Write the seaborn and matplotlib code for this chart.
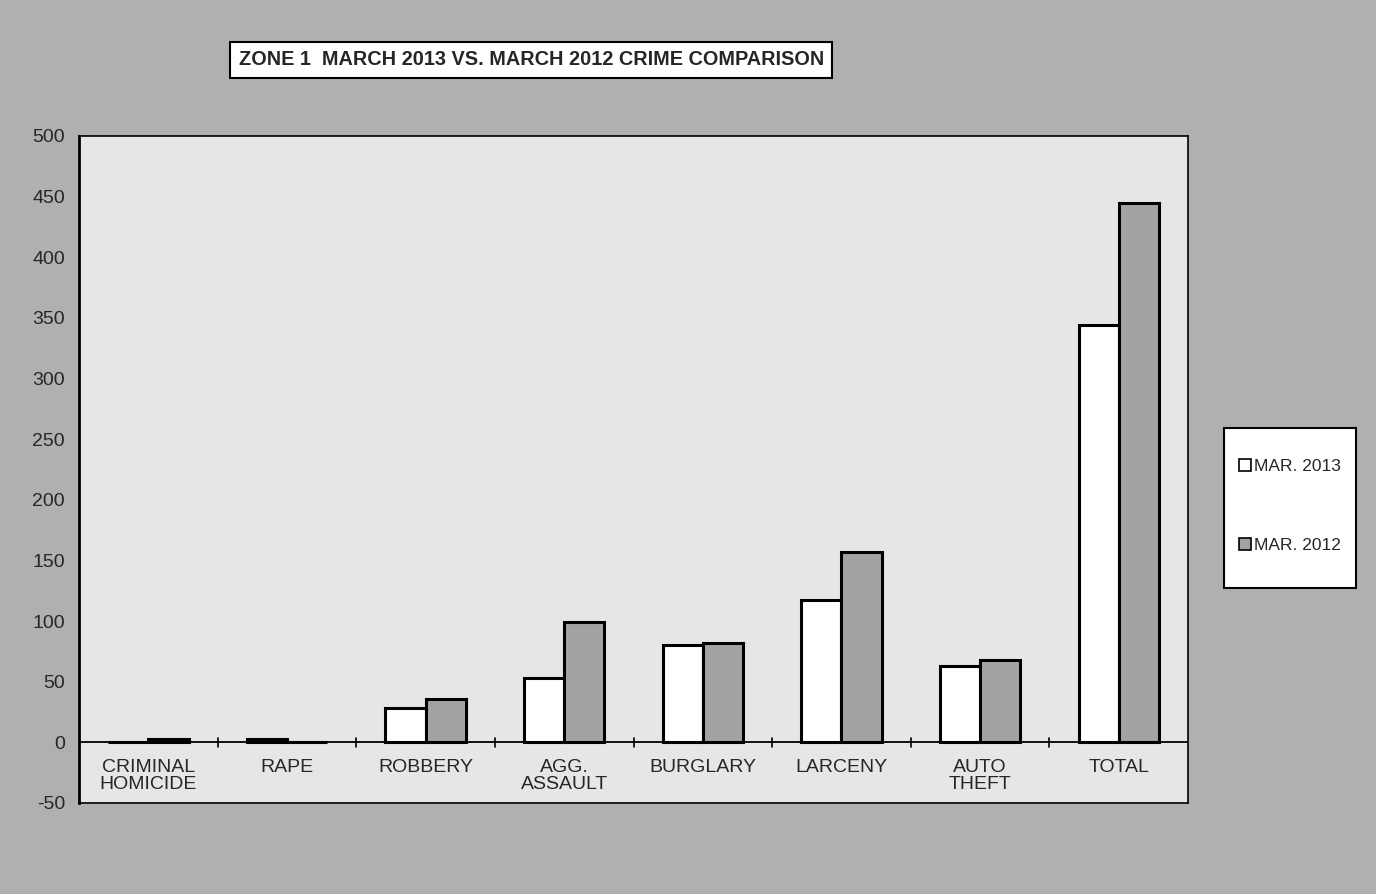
import numpy as np
import pandas as pd
import seaborn as sns
import matplotlib.pyplot as plt
from matplotlib.patches import Patch, Rectangle

crimes = ["CRIMINAL\nHOMICIDE", "RAPE", "ROBBERY", "AGG.\nASSAULT",
          "BURGLARY", "LARCENY", "AUTO\nTHEFT", "TOTAL"]
mar_2013 = [0, 3, 28, 53, 80, 117, 63, 344]
mar_2012 = [3, 0, 36, 99, 82, 157, 68, 445]
series = ["MAR. 2013", "MAR. 2012"]

df = pd.DataFrame({
    "crime": crimes * 2,
    "count": mar_2013 + mar_2012,
    "period": [series[0]] * len(crimes) + [series[1]] * len(crimes),
})

sns.set_style("white")
plt.rcParams['font.family'] = ['Liberation Sans', 'DejaVu Sans']
plt.rcParams['axes.unicode_minus'] = False

fig = plt.figure(figsize=(13.76, 8.94), dpi=100)
fig.patch.set_facecolor("#b0b0b0")
ax = fig.add_axes([0.0574, 0.1018, 0.806, 0.7461])
ax.set_facecolor("#e6e6e6")

sns.barplot(data=df, x="crime", y="count", hue="period", order=crimes,
            hue_order=series, palette=["white", "#a3a3a3"], width=0.58,
            edgecolor="black", linewidth=2.2, ax=ax, legend=False)

ax.set_ylim(-50, 500)
ax.set_xlim(-0.5, len(crimes) - 0.5)
ax.set_yticks(np.arange(-50, 501, 50))
ax.tick_params(axis="y", labelsize=14, direction="out", length=7, width=1.2, pad=3)
ax.set_xticks([])
ax.set_xlabel("")
ax.set_ylabel("")
for s in ax.spines.values():
    s.set_visible(True)
    s.set_color("black")
    s.set_linewidth(1.2)
ax.spines["left"].set_linewidth(2)

# zero line with separators between categories
ax.axhline(0, color="black", lw=1.3, zorder=1)
for b in np.arange(0.5, len(crimes) - 1, 1):
    ax.plot([b, b], [-4, 4], color="black", lw=1.2, zorder=1)
for i, c in enumerate(crimes):
    ax.text(i, -14, c, ha="center", va="top", fontsize=14, linespacing=0.95)

fig.text(0.386, 0.933, "ZONE 1  MARCH 2013 VS. MARCH 2012 CRIME COMPARISON",
         ha="center", va="center", fontsize=14.3, fontweight="bold",
         bbox=dict(facecolor="white", edgecolor="black", linewidth=1.5, pad=6))

# legend box
fig.patches.append(Rectangle((0.8895, 0.3423), 0.0959, 0.179, transform=fig.transFigure,
                             facecolor="white", edgecolor="black", linewidth=1.5, zorder=2))
handles = [Patch(facecolor="white", edgecolor="black", linewidth=1.2),
           Patch(facecolor="#a3a3a3", edgecolor="black", linewidth=1.2)]
leg = fig.legend(handles, series, loc="center", bbox_to_anchor=(0.9375, 0.434),
                 fontsize=12.5, frameon=False, handlelength=0.7,
                 handleheight=0.7, handletextpad=0.2, labelspacing=3.7,
                 borderpad=0, borderaxespad=0)
leg.set_zorder(3)

fig.savefig("out.png", dpi=100, facecolor=fig.get_facecolor())
